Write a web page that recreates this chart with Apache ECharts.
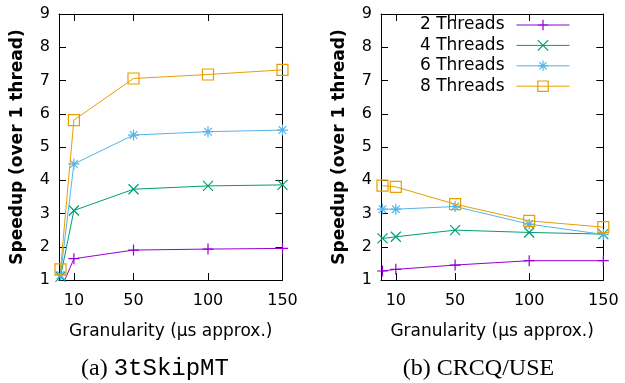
<!DOCTYPE html>
<html>
<head>
<meta charset="utf-8">
<script src="https://cdn.jsdelivr.net/npm/echarts@6/dist/echarts.min.js"></script>
<style>
html,body{margin:0;padding:0;background:#fff;}
#c{width:625px;height:383px;}
</style>
</head>
<body>
<div id="c"></div>
<script>
// ---- data ----
const granularity = [1, 10, 50, 100, 150];
const xTickValues = [10, 50, 100, 150];
const seriesNames = ['2 Threads', '4 Threads', '6 Threads', '8 Threads'];
// (a) 3tSkipMT
const skip2 = [0.7, 1.64, 1.90, 1.93, 1.95];
const skip4 = [1.1, 3.09, 3.73, 3.83, 3.86];
const skip6 = [1.15, 4.49, 5.36, 5.46, 5.51];
const skip8 = [1.32, 5.81, 7.06, 7.18, 7.32];
// (b) CRCQ/USE
const crcq2 = [1.27, 1.32, 1.45, 1.58, 1.58];
const crcq4 = [2.25, 2.30, 2.50, 2.43, 2.38];
const crcq6 = [3.13, 3.13, 3.21, 2.68, 2.37];
const crcq8 = [3.84, 3.80, 3.28, 2.78, 2.59];
const captionA = ['(a) ', '3tSkipMT'];
const captionB = '(b) CRCQ/USE';
const xName = 'Granularity (µs approx.)';
const yName = 'Speedup (over 1 thread)';

// ---- styles ----
const colors = ['#9400d3', '#009e73', '#56b4e9', '#e69f00'];
const symbols = [
  'path://M5 0L5 10M0 5L10 5',
  'path://M0 0L10 10M10 0L0 10',
  'path://M5 0L5 10M0 5L10 5M1.5 1.5L8.5 8.5M8.5 1.5L1.5 8.5',
  'path://M0 0L10 0L10 10L0 10Z'
];
const symSizes = [11, 10, 11, 11];
const FONT = 'DejaVu Sans';

function pairs(ys) { return granularity.map((x, i) => [x, ys[i]]); }

function xAxes(gi) {
  const base = {
    type: 'value', gridIndex: gi, min: 0, max: 150,
    splitLine: { show: false },
    axisLine: { show: true, onZero: false, lineStyle: { color: '#000', width: 1 } },
    axisTick: { show: true, inside: true, length: 7, customValues: xTickValues, lineStyle: { color: '#000' } }
  };
  return [
    Object.assign({}, base, {
      position: 'bottom',
      axisLabel: { show: true, customValues: xTickValues, color: '#000', fontFamily: FONT, fontSize: 16, margin: 13 },
      name: xName, nameLocation: 'middle', nameGap: 43,
      nameTextStyle: { color: '#000', fontFamily: FONT, fontSize: 17 }
    }),
    Object.assign({}, base, { position: 'top', axisLabel: { show: false } })
  ];
}
function yAxes(gi) {
  const base = {
    type: 'value', gridIndex: gi, min: 1, max: 9, interval: 1,
    splitLine: { show: false },
    axisLine: { show: true, onZero: false, lineStyle: { color: '#000', width: 1 } },
    axisTick: { show: true, inside: true, length: 7, lineStyle: { color: '#000' } }
  };
  return [
    Object.assign({}, base, {
      position: 'left',
      axisLabel: { show: true, color: '#000', fontFamily: FONT, fontSize: 16, margin: 9 },
      name: yName, nameLocation: 'middle', nameGap: 33, nameRotate: 90,
      nameTextStyle: { color: '#000', fontFamily: FONT, fontSize: 17, fontWeight: 'bold' }
    }),
    Object.assign({}, base, { position: 'right', axisLabel: { show: false } })
  ];
}

function makeSeries(gi, data) {
  return data.map((ys, k) => ({
    name: seriesNames[k], type: 'line',
    xAxisIndex: gi * 2, yAxisIndex: gi * 2,
    data: pairs(ys), clip: true,
    symbol: symbols[k], symbolSize: symSizes[k], showSymbol: true,
    color: colors[k],
    lineStyle: { color: colors[k], width: 1 },
    itemStyle: { color: 'rgba(0,0,0,0)', borderColor: colors[k], borderWidth: 1.2 },
    emphasis: { disabled: true },
    animation: false, z: 2 + k
  }));
}

const option = {
  animation: false,
  backgroundColor: '#fff',
  grid: [
    { left: 59, top: 14, width: 223.5, height: 266 },
    { left: 381, top: 14, width: 222.3, height: 266 }
  ],
  xAxis: [].concat(xAxes(0), xAxes(1)),
  yAxis: [].concat(yAxes(0), yAxes(1)),
  legend: {
    data: seriesNames,
    orient: 'vertical', align: 'right',
    right: 55, top: 15, padding: 0,
    itemWidth: 53, itemHeight: 13, itemGap: 0.4,
    lineStyle: { width: 1 },
    itemStyle: { borderWidth: 1.2 },
    textStyle: { color: '#000', fontFamily: FONT, fontSize: 17, lineHeight: 20, padding: [0, 7, 0, 0] },
    selectedMode: false
  },
  series: [].concat(makeSeries(0, [skip2, skip4, skip6, skip8]), makeSeries(1, [crcq2, crcq4, crcq6, crcq8])),
  graphic: [
    { type: 'text', x: 155, y: 369,
      style: { text: '{s|' + captionA[0] + '}{m|' + captionA[1] + '}',
        align: 'center', verticalAlign: 'middle',
        rich: { s: { fontFamily: 'Liberation Serif', fontSize: 24, fill: '#000' },
                m: { fontFamily: 'Liberation Mono', fontSize: 24, fill: '#000' } } } },
    { type: 'text', x: 478.5, y: 369,
      style: { text: captionB, align: 'center', verticalAlign: 'middle',
        fontFamily: 'Liberation Serif', fontSize: 24, fill: '#000' } }
  ]
};
const chart = echarts.init(document.getElementById('c'), null, { renderer: 'canvas' });
chart.setOption(option);
</script>
</body>
</html>
